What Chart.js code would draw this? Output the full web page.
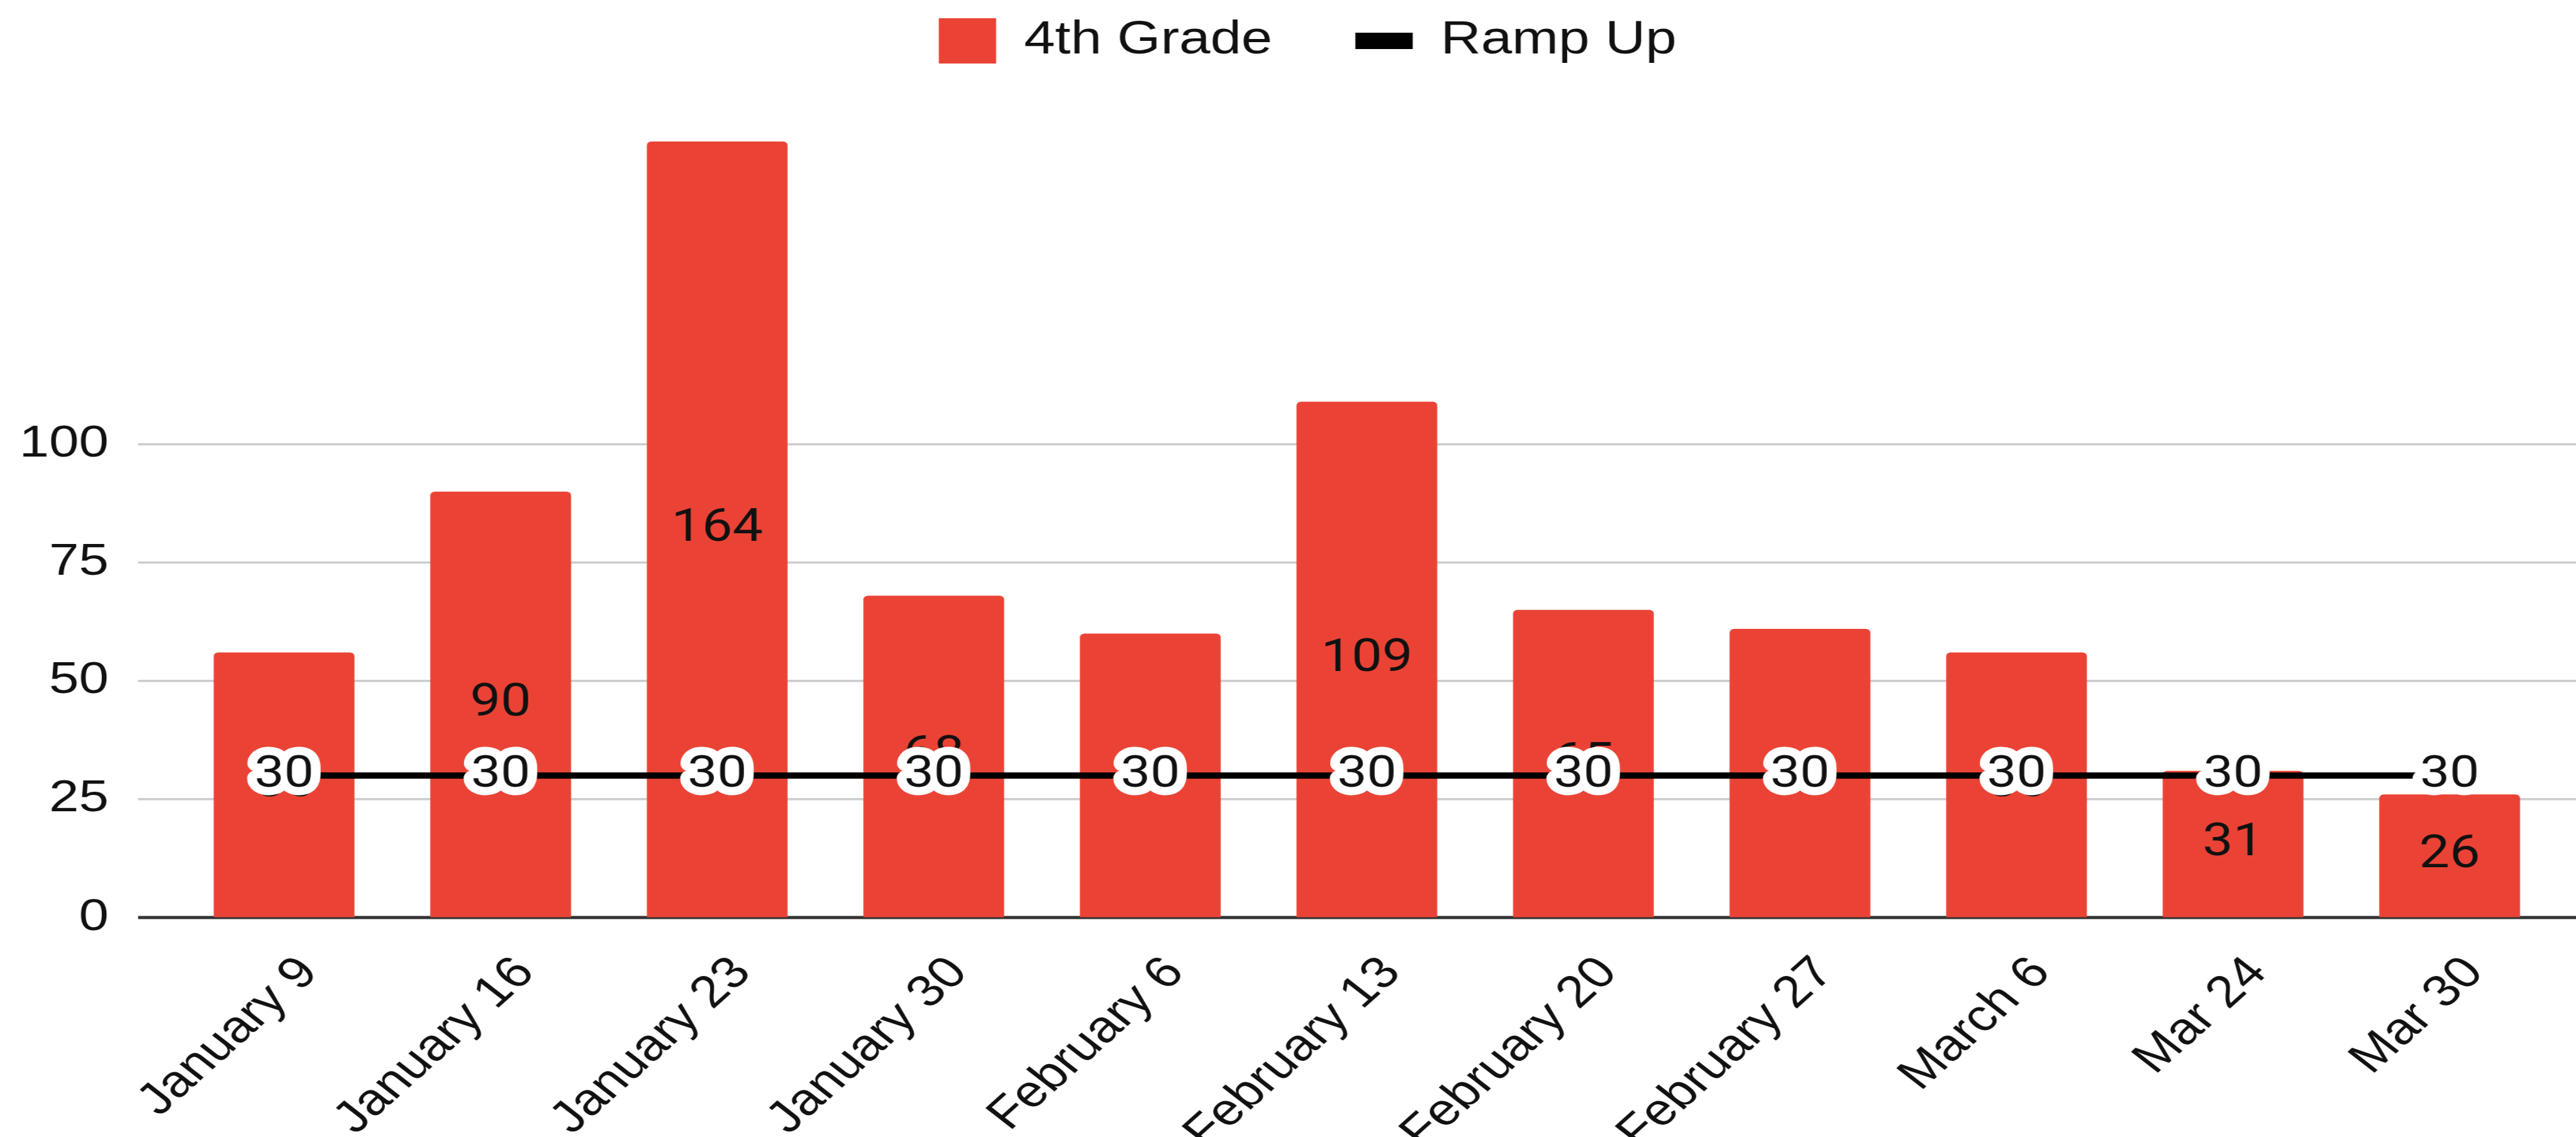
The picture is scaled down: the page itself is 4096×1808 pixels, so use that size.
<!DOCTYPE html>
<html>
<head>
<meta charset="utf-8">
<script src="https://cdn.jsdelivr.net/npm/chart.js@4.4.1/dist/chart.umd.min.js"></script>
<style>
  html, body { margin: 0; padding: 0; background: #fff; overflow: hidden; }
  /* o gráfico é desenhado mais estreito e esticado na horizontal */
  #moldura { position: relative; width: 3414px; height: 1808px; transform: scaleX(1.19977); transform-origin: 0 0; }
</style>
</head>
<body>
<div id="moldura"><canvas id="graficoRampUp"></canvas></div>
<script>
// Semanas e valores do gráfico
const semanas = ["January 9", "January 16", "January 23", "January 30", "February 6", "February 13",
  "February 20", "February 27", "March 6", "Mar 24", "Mar 30"];
const quartoAno = [56, 90, 164, 68, 60, 109, 65, 61, 56, 31, 26];
const rampUp = [30, 30, 30, 30, 30, 30, 30, 30, 30, 30, 30];
const ticksY = [0, 25, 50, 75, 100];

const corBarra = "#EA4335";

Chart.defaults.font.family = "'Liberation Sans', Arial, sans-serif";
Chart.defaults.color = "#111";

// Linhas de grade horizontais, mais compridas que a área do gráfico
const linhasGrade = {
  id: "linhasGrade",
  beforeDatasetsDraw(chart) {
    const { ctx } = chart;
    const escalaY = chart.scales.y;
    ctx.save();
    escalaY.ticks.forEach(t => {
      const py = escalaY.getPixelForValue(t.value);
      ctx.beginPath();
      ctx.strokeStyle = t.value === 0 ? "#333" : "#cccccc";
      ctx.lineWidth = t.value === 0 ? 5 : 3.5;
      ctx.moveTo(183, py);
      ctx.lineTo(chart.width, py);
      ctx.stroke();
    });
    ctx.restore();
  }
};

// Rótulos de valor: no meio das barras e com contorno branco na linha
const rotulosValor = {
  id: "rotulosValor",
  afterDatasetDraw(chart, args) {
    const { ctx } = chart;
    const meta = args.meta;
    const valores = chart.data.datasets[args.index].data;
    ctx.save();
    ctx.textAlign = "center";
    ctx.textBaseline = "middle";
    if (meta.type === "bar") {
      ctx.font = "72px Roboto";
      ctx.fillStyle = "#111";
      meta.data.forEach((barra, i) => {
        ctx.fillText(String(valores[i]), barra.x, (barra.y + barra.base) / 2);
      });
    } else {
      ctx.font = "70px Roboto";
      ctx.lineJoin = "round";
      ctx.lineWidth = 26;
      ctx.strokeStyle = "#fff";
      ctx.fillStyle = "#111";
      meta.data.forEach((ponto, i) => {
        ctx.strokeText(String(valores[i]), ponto.x, ponto.y);
        ctx.fillText(String(valores[i]), ponto.x, ponto.y);
      });
    }
    ctx.restore();
  }
};

const grafico = new Chart(document.getElementById("graficoRampUp"), {
  type: "bar",
  data: {
    labels: semanas,
    datasets: [
      {
        type: "line",
        label: "Ramp Up",
        data: rampUp,
        borderColor: "#000",
        backgroundColor: "#000",
        borderWidth: 10,
        pointRadius: 0,
        pointStyle: "line",
        order: 1
      },
      {
        label: "4th Grade",
        data: quartoAno,
        backgroundColor: corBarra,
        borderRadius: 6,
        barPercentage: 0.65,
        categoryPercentage: 1,
        pointStyle: "rect",
        order: 2
      }
    ]
  },
  options: {
    responsive: true,
    maintainAspectRatio: false,
    animation: false,
    devicePixelRatio: 1,
    layout: { padding: { top: -82, left: 20, right: -32, bottom: 0 } },
    plugins: {
      tooltip: { enabled: false },
      legend: {
        position: "top",
        labels: {
          font: { size: 74 },
          color: "#111",
          padding: 110,
          usePointStyle: true,
          pointStyleWidth: 76,
          boxHeight: 72,
          // barra primeiro, depois a linha grossa
          generateLabels(chart) {
            const itens = Chart.defaults.plugins.legend.labels.generateLabels(chart);
            itens.forEach(item => {
              if (item.text === "Ramp Up") {
                item.pointStyle = "line";
                item.lineWidth = 26;
                item.strokeStyle = "#000";
              } else {
                item.pointStyle = "rect";
                item.lineWidth = 0;
                item.fillStyle = corBarra;
              }
            });
            return itens.sort((a, b) => (a.text === "4th Grade" ? -1 : 1));
          }
        }
      }
    },
    scales: {
      x: {
        offset: true,
        grid: { display: false, drawTicks: false },
        border: { display: false },
        ticks: { autoSkip: false, minRotation: 47, maxRotation: 47, padding: 47, labelOffset: 33, font: { size: 71 }, color: "#111" },
        afterFit(escala) { escala.height = 349; }
      },
      y: {
        min: 0,
        max: 179,
        // grade invisível: só a marca de tick afasta os rótulos do eixo
        grid: { display: true, color: "rgba(0,0,0,0)", drawTicks: true, tickLength: 81 },
        border: { display: false },
        ticks: { padding: 8, font: { size: 71 }, color: "#111" },
        afterBuildTicks(escala) { escala.ticks = ticksY.map(v => ({ value: v })); },
        afterFit(escala) { escala.width = 213; }
      },
      y2: {
        position: "right",
        grid: { display: false, drawTicks: false },
        border: { display: false },
        ticks: { display: false },
        afterFit(escala) { escala.width = 56; }
      }
    }
  },
  plugins: [linhasGrade, rotulosValor]
});
</script>
</body>
</html>
